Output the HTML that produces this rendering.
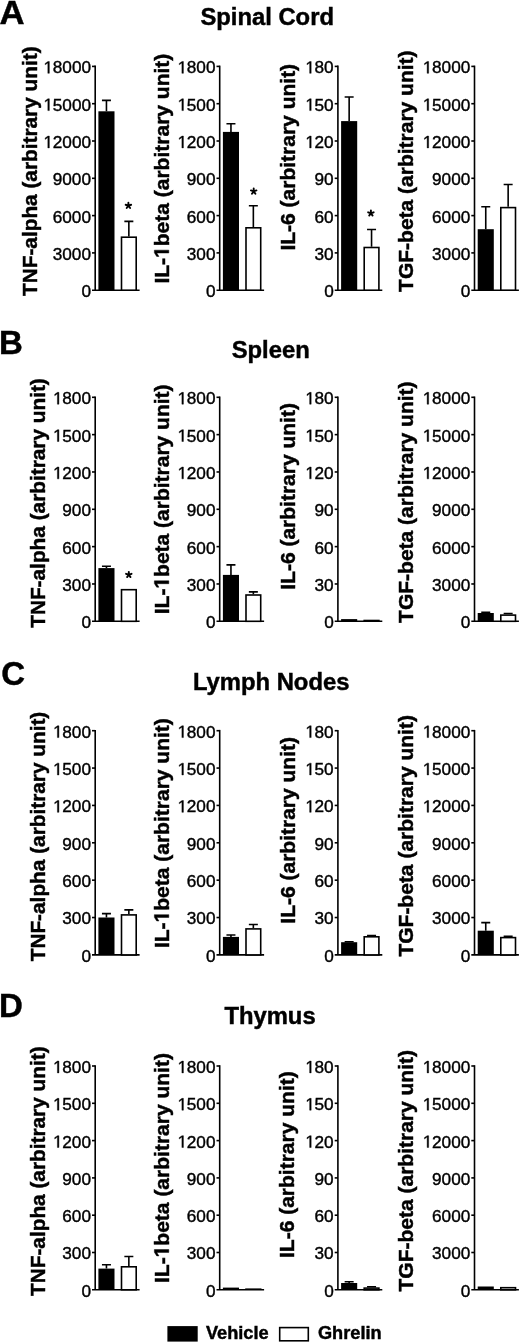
<!DOCTYPE html>
<html><head><meta charset="utf-8"><style>
html,body{margin:0;padding:0;background:#fff;width:520px;height:1343px;overflow:hidden}
svg{display:block;filter:grayscale(1)}
text{font-family:"Liberation Sans",sans-serif;fill:#000}
.b{font-weight:bold;stroke:#000;stroke-width:0.45px}
.r{font-weight:normal;stroke:#000;stroke-width:0.4px}
.g1r{fill:#000;stroke:#000;stroke-width:0.4px}
.g1b{fill:#000;stroke:#000;stroke-width:0.45px}
.ln{stroke:#000;stroke-width:1.6;fill:none}
rect.ln{fill:#fff}
</style></head><body>
<svg width="520" height="1343" viewBox="0 0 520 1343">
<rect width="520" height="1343" fill="#fff"/>
<text x="0" y="24.0" transform="matrix(1.05,0,0,1,-0.45,0)" class="b" font-size="33">A</text>
<text x="267.2" y="25.2" class="b" font-size="23.8" text-anchor="middle">Spinal Cord</text>
<text transform="translate(36.90,296.01) rotate(-90)" class="b" font-size="20.8">TNF-alpha (arbitrary unit)</text>
<path d="M95.20 65.60V290.20" class="ln"/>
<path d="M92.00 290.20H139.60" class="ln"/>
<text x="91.00" y="297.10" class="r" font-size="17.2" text-anchor="end">0</text>
<path d="M92.00 252.90H95.20" class="ln"/>
<text x="91.00" y="259.80" class="r" font-size="17.2" text-anchor="end">3000</text>
<path d="M92.00 215.60H95.20" class="ln"/>
<text x="91.00" y="222.50" class="r" font-size="17.2" text-anchor="end">6000</text>
<path d="M92.00 178.30H95.20" class="ln"/>
<text x="91.00" y="185.20" class="r" font-size="17.2" text-anchor="end">9000</text>
<path d="M92.00 141.00H95.20" class="ln"/>
<text x="91.00" y="147.90" class="r" font-size="17.2" text-anchor="end">&#x2007;2000</text>
<path d="M47.83 147.90L47.83 137.51L45.16 139.42L45.16 137.99L47.96 136.07L49.35 136.07L49.35 147.90Z" class="g1r"/>
<path d="M92.00 103.70H95.20" class="ln"/>
<text x="91.00" y="110.60" class="r" font-size="17.2" text-anchor="end">&#x2007;5000</text>
<path d="M47.83 110.60L47.83 100.21L45.16 102.12L45.16 100.69L47.96 98.77L49.35 98.77L49.35 110.60Z" class="g1r"/>
<path d="M92.00 66.40H95.20" class="ln"/>
<text x="91.00" y="73.30" class="r" font-size="17.2" text-anchor="end">&#x2007;8000</text>
<path d="M47.83 73.30L47.83 62.91L45.16 64.82L45.16 63.39L47.96 61.47L49.35 61.47L49.35 73.30Z" class="g1r"/>
<path d="M106.45 111.30V100.40M101.95 100.40H110.95" class="ln"/>
<rect x="98.40" y="111.30" width="16.10" height="178.90" fill="#000"/>
<path d="M128.85 236.40V221.40M124.35 221.40H133.35" class="ln"/>
<rect x="121.50" y="237.20" width="14.70" height="53.00" fill="#fff" class="ln"/>
<path d="M128.40 205.65L128.40 202.75M128.40 205.65L131.16 204.75M128.40 205.65L130.10 208.00M128.40 205.65L126.70 208.00M128.40 205.65L125.64 204.75" stroke="#000" stroke-width="1.9" stroke-linecap="round" fill="none"/>
<text transform="translate(168.80,283.57) rotate(-90)" class="b" font-size="21">IL-&#x2007;beta (arbitrary unit)</text>
<path d="M168.80 253.01L156.80 253.01L158.97 256.48L156.70 256.48L154.35 252.86L154.35 250.13L168.80 250.13Z" class="g1b"/>
<path d="M219.70 65.60V290.20" class="ln"/>
<path d="M216.50 290.20H264.10" class="ln"/>
<text x="215.50" y="297.10" class="r" font-size="17.2" text-anchor="end">0</text>
<path d="M216.50 252.90H219.70" class="ln"/>
<text x="215.50" y="259.80" class="r" font-size="17.2" text-anchor="end">300</text>
<path d="M216.50 215.60H219.70" class="ln"/>
<text x="215.50" y="222.50" class="r" font-size="17.2" text-anchor="end">600</text>
<path d="M216.50 178.30H219.70" class="ln"/>
<text x="215.50" y="185.20" class="r" font-size="17.2" text-anchor="end">900</text>
<path d="M216.50 141.00H219.70" class="ln"/>
<text x="215.50" y="147.90" class="r" font-size="17.2" text-anchor="end">&#x2007;200</text>
<path d="M181.90 147.90L181.90 137.51L179.23 139.42L179.23 137.99L182.02 136.07L183.42 136.07L183.42 147.90Z" class="g1r"/>
<path d="M216.50 103.70H219.70" class="ln"/>
<text x="215.50" y="110.60" class="r" font-size="17.2" text-anchor="end">&#x2007;500</text>
<path d="M181.90 110.60L181.90 100.21L179.23 102.12L179.23 100.69L182.02 98.77L183.42 98.77L183.42 110.60Z" class="g1r"/>
<path d="M216.50 66.40H219.70" class="ln"/>
<text x="215.50" y="73.30" class="r" font-size="17.2" text-anchor="end">&#x2007;800</text>
<path d="M181.90 73.30L181.90 62.91L179.23 64.82L179.23 63.39L182.02 61.47L183.42 61.47L183.42 73.30Z" class="g1r"/>
<path d="M230.95 131.90V123.80M226.45 123.80H235.45" class="ln"/>
<rect x="222.90" y="131.90" width="16.10" height="158.30" fill="#000"/>
<path d="M253.35 227.00V205.70M248.85 205.70H257.85" class="ln"/>
<rect x="246.00" y="227.80" width="14.70" height="62.40" fill="#fff" class="ln"/>
<path d="M253.70 191.35L253.70 188.45M253.70 191.35L256.46 190.45M253.70 191.35L255.40 193.70M253.70 191.35L252.00 193.70M253.70 191.35L250.94 190.45" stroke="#000" stroke-width="1.9" stroke-linecap="round" fill="none"/>
<text transform="translate(294.80,250.57) rotate(-90)" class="b" font-size="21">IL-6 (arbitrary unit)</text>
<path d="M337.90 65.60V290.20" class="ln"/>
<path d="M334.70 290.20H382.30" class="ln"/>
<text x="333.70" y="297.10" class="r" font-size="17.2" text-anchor="end">0</text>
<path d="M334.70 252.90H337.90" class="ln"/>
<text x="333.70" y="259.80" class="r" font-size="17.2" text-anchor="end">30</text>
<path d="M334.70 215.60H337.90" class="ln"/>
<text x="333.70" y="222.50" class="r" font-size="17.2" text-anchor="end">60</text>
<path d="M334.70 178.30H337.90" class="ln"/>
<text x="333.70" y="185.20" class="r" font-size="17.2" text-anchor="end">90</text>
<path d="M334.70 141.00H337.90" class="ln"/>
<text x="333.70" y="147.90" class="r" font-size="17.2" text-anchor="end">&#x2007;20</text>
<path d="M309.66 147.90L309.66 137.51L306.99 139.42L306.99 137.99L309.79 136.07L311.18 136.07L311.18 147.90Z" class="g1r"/>
<path d="M334.70 103.70H337.90" class="ln"/>
<text x="333.70" y="110.60" class="r" font-size="17.2" text-anchor="end">&#x2007;50</text>
<path d="M309.66 110.60L309.66 100.21L306.99 102.12L306.99 100.69L309.79 98.77L311.18 98.77L311.18 110.60Z" class="g1r"/>
<path d="M334.70 66.40H337.90" class="ln"/>
<text x="333.70" y="73.30" class="r" font-size="17.2" text-anchor="end">&#x2007;80</text>
<path d="M309.66 73.30L309.66 62.91L306.99 64.82L306.99 63.39L309.79 61.47L311.18 61.47L311.18 73.30Z" class="g1r"/>
<path d="M349.15 121.10V97.00M344.65 97.00H353.65" class="ln"/>
<rect x="341.10" y="121.10" width="16.10" height="169.10" fill="#000"/>
<path d="M371.55 246.70V229.50M367.05 229.50H376.05" class="ln"/>
<rect x="364.20" y="247.50" width="14.70" height="42.70" fill="#fff" class="ln"/>
<path d="M370.90 213.25L370.90 210.35M370.90 213.25L373.66 212.35M370.90 213.25L372.60 215.60M370.90 213.25L369.20 215.60M370.90 213.25L368.14 212.35" stroke="#000" stroke-width="1.9" stroke-linecap="round" fill="none"/>
<text transform="translate(413.10,291.91) rotate(-90)" class="b" font-size="21">TGF-beta (arbitrary unit)</text>
<path d="M474.50 65.60V290.20" class="ln"/>
<path d="M471.30 290.20H518.90" class="ln"/>
<text x="470.30" y="297.10" class="r" font-size="17.2" text-anchor="end">0</text>
<path d="M471.30 252.90H474.50" class="ln"/>
<text x="470.30" y="259.80" class="r" font-size="17.2" text-anchor="end">3000</text>
<path d="M471.30 215.60H474.50" class="ln"/>
<text x="470.30" y="222.50" class="r" font-size="17.2" text-anchor="end">6000</text>
<path d="M471.30 178.30H474.50" class="ln"/>
<text x="470.30" y="185.20" class="r" font-size="17.2" text-anchor="end">9000</text>
<path d="M471.30 141.00H474.50" class="ln"/>
<text x="470.30" y="147.90" class="r" font-size="17.2" text-anchor="end">&#x2007;2000</text>
<path d="M427.13 147.90L427.13 137.51L424.46 139.42L424.46 137.99L427.26 136.07L428.65 136.07L428.65 147.90Z" class="g1r"/>
<path d="M471.30 103.70H474.50" class="ln"/>
<text x="470.30" y="110.60" class="r" font-size="17.2" text-anchor="end">&#x2007;5000</text>
<path d="M427.13 110.60L427.13 100.21L424.46 102.12L424.46 100.69L427.26 98.77L428.65 98.77L428.65 110.60Z" class="g1r"/>
<path d="M471.30 66.40H474.50" class="ln"/>
<text x="470.30" y="73.30" class="r" font-size="17.2" text-anchor="end">&#x2007;8000</text>
<path d="M427.13 73.30L427.13 62.91L424.46 64.82L424.46 63.39L427.26 61.47L428.65 61.47L428.65 73.30Z" class="g1r"/>
<path d="M485.75 229.20V206.70M481.25 206.70H490.25" class="ln"/>
<rect x="477.70" y="229.20" width="16.10" height="61.00" fill="#000"/>
<path d="M508.15 206.80V184.50M503.65 184.50H512.65" class="ln"/>
<rect x="500.80" y="207.60" width="14.70" height="82.60" fill="#fff" class="ln"/>
<text x="-1" y="353.5" class="b" font-size="33">B</text>
<text x="270.7" y="357.5" class="b" font-size="23.8" text-anchor="middle">Spleen</text>
<text transform="translate(44.70,627.81) rotate(-90)" class="b" font-size="20.8">TNF-alpha (arbitrary unit)</text>
<path d="M95.20 396.50V621.30" class="ln"/>
<path d="M92.00 621.30H139.60" class="ln"/>
<text x="91.00" y="628.20" class="r" font-size="17.2" text-anchor="end">0</text>
<path d="M92.00 583.97H95.20" class="ln"/>
<text x="91.00" y="590.87" class="r" font-size="17.2" text-anchor="end">300</text>
<path d="M92.00 546.63H95.20" class="ln"/>
<text x="91.00" y="553.53" class="r" font-size="17.2" text-anchor="end">600</text>
<path d="M92.00 509.30H95.20" class="ln"/>
<text x="91.00" y="516.20" class="r" font-size="17.2" text-anchor="end">900</text>
<path d="M92.00 471.97H95.20" class="ln"/>
<text x="91.00" y="478.87" class="r" font-size="17.2" text-anchor="end">&#x2007;200</text>
<path d="M57.40 478.87L57.40 468.48L54.73 470.38L54.73 468.96L57.52 467.03L58.92 467.03L58.92 478.87Z" class="g1r"/>
<path d="M92.00 434.63H95.20" class="ln"/>
<text x="91.00" y="441.53" class="r" font-size="17.2" text-anchor="end">&#x2007;500</text>
<path d="M57.40 441.53L57.40 431.14L54.73 433.05L54.73 431.62L57.52 429.70L58.92 429.70L58.92 441.53Z" class="g1r"/>
<path d="M92.00 397.30H95.20" class="ln"/>
<text x="91.00" y="404.20" class="r" font-size="17.2" text-anchor="end">&#x2007;800</text>
<path d="M57.40 404.20L57.40 393.81L54.73 395.72L54.73 394.29L57.52 392.37L58.92 392.37L58.92 404.20Z" class="g1r"/>
<path d="M106.45 568.10V566.20M101.95 566.20H110.95" class="ln"/>
<rect x="98.40" y="568.10" width="16.10" height="53.20" fill="#000"/>
<rect x="121.50" y="589.70" width="14.70" height="31.60" fill="#fff" class="ln"/>
<path d="M128.80 574.75L128.80 571.85M128.80 574.75L131.56 573.85M128.80 574.75L130.50 577.10M128.80 574.75L127.10 577.10M128.80 574.75L126.04 573.85" stroke="#000" stroke-width="1.9" stroke-linecap="round" fill="none"/>
<text transform="translate(168.80,614.27) rotate(-90)" class="b" font-size="21">IL-&#x2007;beta (arbitrary unit)</text>
<path d="M168.80 583.71L156.80 583.71L158.97 587.18L156.70 587.18L154.35 583.56L154.35 580.83L168.80 580.83Z" class="g1b"/>
<path d="M219.70 396.50V621.30" class="ln"/>
<path d="M216.50 621.30H264.10" class="ln"/>
<text x="215.50" y="628.20" class="r" font-size="17.2" text-anchor="end">0</text>
<path d="M216.50 583.97H219.70" class="ln"/>
<text x="215.50" y="590.87" class="r" font-size="17.2" text-anchor="end">300</text>
<path d="M216.50 546.63H219.70" class="ln"/>
<text x="215.50" y="553.53" class="r" font-size="17.2" text-anchor="end">600</text>
<path d="M216.50 509.30H219.70" class="ln"/>
<text x="215.50" y="516.20" class="r" font-size="17.2" text-anchor="end">900</text>
<path d="M216.50 471.97H219.70" class="ln"/>
<text x="215.50" y="478.87" class="r" font-size="17.2" text-anchor="end">&#x2007;200</text>
<path d="M181.90 478.87L181.90 468.48L179.23 470.38L179.23 468.96L182.02 467.03L183.42 467.03L183.42 478.87Z" class="g1r"/>
<path d="M216.50 434.63H219.70" class="ln"/>
<text x="215.50" y="441.53" class="r" font-size="17.2" text-anchor="end">&#x2007;500</text>
<path d="M181.90 441.53L181.90 431.14L179.23 433.05L179.23 431.62L182.02 429.70L183.42 429.70L183.42 441.53Z" class="g1r"/>
<path d="M216.50 397.30H219.70" class="ln"/>
<text x="215.50" y="404.20" class="r" font-size="17.2" text-anchor="end">&#x2007;800</text>
<path d="M181.90 404.20L181.90 393.81L179.23 395.72L179.23 394.29L182.02 392.37L183.42 392.37L183.42 404.20Z" class="g1r"/>
<path d="M230.95 574.90V564.90M226.45 564.90H235.45" class="ln"/>
<rect x="222.90" y="574.90" width="16.10" height="46.40" fill="#000"/>
<path d="M253.35 594.20V591.90M248.85 591.90H257.85" class="ln"/>
<rect x="246.00" y="595.00" width="14.70" height="26.30" fill="#fff" class="ln"/>
<text transform="translate(294.60,589.77) rotate(-90)" class="b" font-size="21">IL-6 (arbitrary unit)</text>
<path d="M337.90 396.50V621.30" class="ln"/>
<path d="M334.70 621.30H382.30" class="ln"/>
<text x="333.70" y="628.20" class="r" font-size="17.2" text-anchor="end">0</text>
<path d="M334.70 583.97H337.90" class="ln"/>
<text x="333.70" y="590.87" class="r" font-size="17.2" text-anchor="end">30</text>
<path d="M334.70 546.63H337.90" class="ln"/>
<text x="333.70" y="553.53" class="r" font-size="17.2" text-anchor="end">60</text>
<path d="M334.70 509.30H337.90" class="ln"/>
<text x="333.70" y="516.20" class="r" font-size="17.2" text-anchor="end">90</text>
<path d="M334.70 471.97H337.90" class="ln"/>
<text x="333.70" y="478.87" class="r" font-size="17.2" text-anchor="end">&#x2007;20</text>
<path d="M309.66 478.87L309.66 468.48L306.99 470.38L306.99 468.96L309.79 467.03L311.18 467.03L311.18 478.87Z" class="g1r"/>
<path d="M334.70 434.63H337.90" class="ln"/>
<text x="333.70" y="441.53" class="r" font-size="17.2" text-anchor="end">&#x2007;50</text>
<path d="M309.66 441.53L309.66 431.14L306.99 433.05L306.99 431.62L309.79 429.70L311.18 429.70L311.18 441.53Z" class="g1r"/>
<path d="M334.70 397.30H337.90" class="ln"/>
<text x="333.70" y="404.20" class="r" font-size="17.2" text-anchor="end">&#x2007;80</text>
<path d="M309.66 404.20L309.66 393.81L306.99 395.72L306.99 394.29L309.79 392.37L311.18 392.37L311.18 404.20Z" class="g1r"/>
<rect x="341.10" y="619.10" width="16.10" height="2.20" fill="#000"/>
<rect x="363.40" y="619.70" width="16.30" height="1.60" fill="#000"/>
<text transform="translate(413.10,622.91) rotate(-90)" class="b" font-size="21">TGF-beta (arbitrary unit)</text>
<path d="M474.50 396.50V621.30" class="ln"/>
<path d="M471.30 621.30H518.90" class="ln"/>
<text x="470.30" y="628.20" class="r" font-size="17.2" text-anchor="end">0</text>
<path d="M471.30 583.97H474.50" class="ln"/>
<text x="470.30" y="590.87" class="r" font-size="17.2" text-anchor="end">3000</text>
<path d="M471.30 546.63H474.50" class="ln"/>
<text x="470.30" y="553.53" class="r" font-size="17.2" text-anchor="end">6000</text>
<path d="M471.30 509.30H474.50" class="ln"/>
<text x="470.30" y="516.20" class="r" font-size="17.2" text-anchor="end">9000</text>
<path d="M471.30 471.97H474.50" class="ln"/>
<text x="470.30" y="478.87" class="r" font-size="17.2" text-anchor="end">&#x2007;2000</text>
<path d="M427.13 478.87L427.13 468.48L424.46 470.38L424.46 468.96L427.26 467.03L428.65 467.03L428.65 478.87Z" class="g1r"/>
<path d="M471.30 434.63H474.50" class="ln"/>
<text x="470.30" y="441.53" class="r" font-size="17.2" text-anchor="end">&#x2007;5000</text>
<path d="M427.13 441.53L427.13 431.14L424.46 433.05L424.46 431.62L427.26 429.70L428.65 429.70L428.65 441.53Z" class="g1r"/>
<path d="M471.30 397.30H474.50" class="ln"/>
<text x="470.30" y="404.20" class="r" font-size="17.2" text-anchor="end">&#x2007;8000</text>
<path d="M427.13 404.20L427.13 393.81L424.46 395.72L424.46 394.29L427.26 392.37L428.65 392.37L428.65 404.20Z" class="g1r"/>
<path d="M485.75 613.00V612.20M481.25 612.20H490.25" class="ln"/>
<rect x="477.70" y="613.00" width="16.10" height="8.30" fill="#000"/>
<path d="M508.15 614.30V613.50M503.65 613.50H512.65" class="ln"/>
<rect x="500.80" y="615.10" width="14.70" height="6.20" fill="#fff" class="ln"/>
<text x="1.2" y="685.0" class="b" font-size="33">C</text>
<text x="271.2" y="690.4" class="b" font-size="23.8" text-anchor="middle">Lymph Nodes</text>
<text transform="translate(44.70,961.31) rotate(-90)" class="b" font-size="20.8">TNF-alpha (arbitrary unit)</text>
<path d="M95.20 729.90V954.90" class="ln"/>
<path d="M92.00 954.90H139.60" class="ln"/>
<text x="91.00" y="961.80" class="r" font-size="17.2" text-anchor="end">0</text>
<path d="M92.00 917.53H95.20" class="ln"/>
<text x="91.00" y="924.43" class="r" font-size="17.2" text-anchor="end">300</text>
<path d="M92.00 880.17H95.20" class="ln"/>
<text x="91.00" y="887.07" class="r" font-size="17.2" text-anchor="end">600</text>
<path d="M92.00 842.80H95.20" class="ln"/>
<text x="91.00" y="849.70" class="r" font-size="17.2" text-anchor="end">900</text>
<path d="M92.00 805.43H95.20" class="ln"/>
<text x="91.00" y="812.33" class="r" font-size="17.2" text-anchor="end">&#x2007;200</text>
<path d="M57.40 812.33L57.40 801.94L54.73 803.85L54.73 802.42L57.52 800.50L58.92 800.50L58.92 812.33Z" class="g1r"/>
<path d="M92.00 768.07H95.20" class="ln"/>
<text x="91.00" y="774.97" class="r" font-size="17.2" text-anchor="end">&#x2007;500</text>
<path d="M57.40 774.97L57.40 764.58L54.73 766.48L54.73 765.06L57.52 763.13L58.92 763.13L58.92 774.97Z" class="g1r"/>
<path d="M92.00 730.70H95.20" class="ln"/>
<text x="91.00" y="737.60" class="r" font-size="17.2" text-anchor="end">&#x2007;800</text>
<path d="M57.40 737.60L57.40 727.21L54.73 729.12L54.73 727.69L57.52 725.77L58.92 725.77L58.92 737.60Z" class="g1r"/>
<path d="M106.45 917.50V913.60M101.95 913.60H110.95" class="ln"/>
<rect x="98.40" y="917.50" width="16.10" height="37.40" fill="#000"/>
<path d="M128.85 914.10V909.90M124.35 909.90H133.35" class="ln"/>
<rect x="121.50" y="914.90" width="14.70" height="40.00" fill="#fff" class="ln"/>
<text transform="translate(168.80,948.07) rotate(-90)" class="b" font-size="21">IL-&#x2007;beta (arbitrary unit)</text>
<path d="M168.80 917.51L156.80 917.51L158.97 920.98L156.70 920.98L154.35 917.36L154.35 914.63L168.80 914.63Z" class="g1b"/>
<path d="M219.70 729.90V954.90" class="ln"/>
<path d="M216.50 954.90H264.10" class="ln"/>
<text x="215.50" y="961.80" class="r" font-size="17.2" text-anchor="end">0</text>
<path d="M216.50 917.53H219.70" class="ln"/>
<text x="215.50" y="924.43" class="r" font-size="17.2" text-anchor="end">300</text>
<path d="M216.50 880.17H219.70" class="ln"/>
<text x="215.50" y="887.07" class="r" font-size="17.2" text-anchor="end">600</text>
<path d="M216.50 842.80H219.70" class="ln"/>
<text x="215.50" y="849.70" class="r" font-size="17.2" text-anchor="end">900</text>
<path d="M216.50 805.43H219.70" class="ln"/>
<text x="215.50" y="812.33" class="r" font-size="17.2" text-anchor="end">&#x2007;200</text>
<path d="M181.90 812.33L181.90 801.94L179.23 803.85L179.23 802.42L182.02 800.50L183.42 800.50L183.42 812.33Z" class="g1r"/>
<path d="M216.50 768.07H219.70" class="ln"/>
<text x="215.50" y="774.97" class="r" font-size="17.2" text-anchor="end">&#x2007;500</text>
<path d="M181.90 774.97L181.90 764.58L179.23 766.48L179.23 765.06L182.02 763.13L183.42 763.13L183.42 774.97Z" class="g1r"/>
<path d="M216.50 730.70H219.70" class="ln"/>
<text x="215.50" y="737.60" class="r" font-size="17.2" text-anchor="end">&#x2007;800</text>
<path d="M181.90 737.60L181.90 727.21L179.23 729.12L179.23 727.69L182.02 725.77L183.42 725.77L183.42 737.60Z" class="g1r"/>
<path d="M230.95 936.90V935.00M226.45 935.00H235.45" class="ln"/>
<rect x="222.90" y="936.90" width="16.10" height="18.00" fill="#000"/>
<path d="M253.35 928.10V924.50M248.85 924.50H257.85" class="ln"/>
<rect x="246.00" y="928.90" width="14.70" height="26.00" fill="#fff" class="ln"/>
<text transform="translate(294.60,923.67) rotate(-90)" class="b" font-size="21">IL-6 (arbitrary unit)</text>
<path d="M337.90 729.90V954.90" class="ln"/>
<path d="M334.70 954.90H382.30" class="ln"/>
<text x="333.70" y="961.80" class="r" font-size="17.2" text-anchor="end">0</text>
<path d="M334.70 917.53H337.90" class="ln"/>
<text x="333.70" y="924.43" class="r" font-size="17.2" text-anchor="end">30</text>
<path d="M334.70 880.17H337.90" class="ln"/>
<text x="333.70" y="887.07" class="r" font-size="17.2" text-anchor="end">60</text>
<path d="M334.70 842.80H337.90" class="ln"/>
<text x="333.70" y="849.70" class="r" font-size="17.2" text-anchor="end">90</text>
<path d="M334.70 805.43H337.90" class="ln"/>
<text x="333.70" y="812.33" class="r" font-size="17.2" text-anchor="end">&#x2007;20</text>
<path d="M309.66 812.33L309.66 801.94L306.99 803.85L306.99 802.42L309.79 800.50L311.18 800.50L311.18 812.33Z" class="g1r"/>
<path d="M334.70 768.07H337.90" class="ln"/>
<text x="333.70" y="774.97" class="r" font-size="17.2" text-anchor="end">&#x2007;50</text>
<path d="M309.66 774.97L309.66 764.58L306.99 766.48L306.99 765.06L309.79 763.13L311.18 763.13L311.18 774.97Z" class="g1r"/>
<path d="M334.70 730.70H337.90" class="ln"/>
<text x="333.70" y="737.60" class="r" font-size="17.2" text-anchor="end">&#x2007;80</text>
<path d="M309.66 737.60L309.66 727.21L306.99 729.12L306.99 727.69L309.79 725.77L311.18 725.77L311.18 737.60Z" class="g1r"/>
<path d="M349.15 942.20V941.80M344.65 941.80H353.65" class="ln"/>
<rect x="341.10" y="942.20" width="16.10" height="12.70" fill="#000"/>
<path d="M371.55 936.00V935.60M367.05 935.60H376.05" class="ln"/>
<rect x="364.20" y="936.80" width="14.70" height="18.10" fill="#fff" class="ln"/>
<text transform="translate(413.10,956.61) rotate(-90)" class="b" font-size="21">TGF-beta (arbitrary unit)</text>
<path d="M474.50 729.90V954.90" class="ln"/>
<path d="M471.30 954.90H518.90" class="ln"/>
<text x="470.30" y="961.80" class="r" font-size="17.2" text-anchor="end">0</text>
<path d="M471.30 917.53H474.50" class="ln"/>
<text x="470.30" y="924.43" class="r" font-size="17.2" text-anchor="end">3000</text>
<path d="M471.30 880.17H474.50" class="ln"/>
<text x="470.30" y="887.07" class="r" font-size="17.2" text-anchor="end">6000</text>
<path d="M471.30 842.80H474.50" class="ln"/>
<text x="470.30" y="849.70" class="r" font-size="17.2" text-anchor="end">9000</text>
<path d="M471.30 805.43H474.50" class="ln"/>
<text x="470.30" y="812.33" class="r" font-size="17.2" text-anchor="end">&#x2007;2000</text>
<path d="M427.13 812.33L427.13 801.94L424.46 803.85L424.46 802.42L427.26 800.50L428.65 800.50L428.65 812.33Z" class="g1r"/>
<path d="M471.30 768.07H474.50" class="ln"/>
<text x="470.30" y="774.97" class="r" font-size="17.2" text-anchor="end">&#x2007;5000</text>
<path d="M427.13 774.97L427.13 764.58L424.46 766.48L424.46 765.06L427.26 763.13L428.65 763.13L428.65 774.97Z" class="g1r"/>
<path d="M471.30 730.70H474.50" class="ln"/>
<text x="470.30" y="737.60" class="r" font-size="17.2" text-anchor="end">&#x2007;8000</text>
<path d="M427.13 737.60L427.13 727.21L424.46 729.12L424.46 727.69L427.26 725.77L428.65 725.77L428.65 737.60Z" class="g1r"/>
<path d="M485.75 930.70V922.60M481.25 922.60H490.25" class="ln"/>
<rect x="477.70" y="930.70" width="16.10" height="24.20" fill="#000"/>
<path d="M508.15 936.80V936.30M503.65 936.30H512.65" class="ln"/>
<rect x="500.80" y="937.60" width="14.70" height="17.30" fill="#fff" class="ln"/>
<text x="-1" y="1017.2" class="b" font-size="33">D</text>
<text x="270.0" y="1024.0" class="b" font-size="23.8" text-anchor="middle">Thymus</text>
<text transform="translate(44.70,1296.01) rotate(-90)" class="b" font-size="20.8">TNF-alpha (arbitrary unit)</text>
<path d="M95.20 1065.20V1289.80" class="ln"/>
<path d="M92.00 1289.80H139.60" class="ln"/>
<text x="91.00" y="1296.70" class="r" font-size="17.2" text-anchor="end">0</text>
<path d="M92.00 1252.50H95.20" class="ln"/>
<text x="91.00" y="1259.40" class="r" font-size="17.2" text-anchor="end">300</text>
<path d="M92.00 1215.20H95.20" class="ln"/>
<text x="91.00" y="1222.10" class="r" font-size="17.2" text-anchor="end">600</text>
<path d="M92.00 1177.90H95.20" class="ln"/>
<text x="91.00" y="1184.80" class="r" font-size="17.2" text-anchor="end">900</text>
<path d="M92.00 1140.60H95.20" class="ln"/>
<text x="91.00" y="1147.50" class="r" font-size="17.2" text-anchor="end">&#x2007;200</text>
<path d="M57.40 1147.50L57.40 1137.11L54.73 1139.02L54.73 1137.59L57.52 1135.67L58.92 1135.67L58.92 1147.50Z" class="g1r"/>
<path d="M92.00 1103.30H95.20" class="ln"/>
<text x="91.00" y="1110.20" class="r" font-size="17.2" text-anchor="end">&#x2007;500</text>
<path d="M57.40 1110.20L57.40 1099.81L54.73 1101.72L54.73 1100.29L57.52 1098.37L58.92 1098.37L58.92 1110.20Z" class="g1r"/>
<path d="M92.00 1066.00H95.20" class="ln"/>
<text x="91.00" y="1072.90" class="r" font-size="17.2" text-anchor="end">&#x2007;800</text>
<path d="M57.40 1072.90L57.40 1062.51L54.73 1064.42L54.73 1062.99L57.52 1061.07L58.92 1061.07L58.92 1072.90Z" class="g1r"/>
<path d="M106.45 1268.60V1264.80M101.95 1264.80H110.95" class="ln"/>
<rect x="98.40" y="1268.60" width="16.10" height="21.20" fill="#000"/>
<path d="M128.85 1266.00V1256.50M124.35 1256.50H133.35" class="ln"/>
<rect x="121.50" y="1266.80" width="14.70" height="23.00" fill="#fff" class="ln"/>
<text transform="translate(168.80,1282.97) rotate(-90)" class="b" font-size="21">IL-&#x2007;beta (arbitrary unit)</text>
<path d="M168.80 1252.41L156.80 1252.41L158.97 1255.88L156.70 1255.88L154.35 1252.26L154.35 1249.53L168.80 1249.53Z" class="g1b"/>
<path d="M219.70 1065.20V1289.80" class="ln"/>
<path d="M216.50 1289.80H264.10" class="ln"/>
<text x="215.50" y="1296.70" class="r" font-size="17.2" text-anchor="end">0</text>
<path d="M216.50 1252.50H219.70" class="ln"/>
<text x="215.50" y="1259.40" class="r" font-size="17.2" text-anchor="end">300</text>
<path d="M216.50 1215.20H219.70" class="ln"/>
<text x="215.50" y="1222.10" class="r" font-size="17.2" text-anchor="end">600</text>
<path d="M216.50 1177.90H219.70" class="ln"/>
<text x="215.50" y="1184.80" class="r" font-size="17.2" text-anchor="end">900</text>
<path d="M216.50 1140.60H219.70" class="ln"/>
<text x="215.50" y="1147.50" class="r" font-size="17.2" text-anchor="end">&#x2007;200</text>
<path d="M181.90 1147.50L181.90 1137.11L179.23 1139.02L179.23 1137.59L182.02 1135.67L183.42 1135.67L183.42 1147.50Z" class="g1r"/>
<path d="M216.50 1103.30H219.70" class="ln"/>
<text x="215.50" y="1110.20" class="r" font-size="17.2" text-anchor="end">&#x2007;500</text>
<path d="M181.90 1110.20L181.90 1099.81L179.23 1101.72L179.23 1100.29L182.02 1098.37L183.42 1098.37L183.42 1110.20Z" class="g1r"/>
<path d="M216.50 1066.00H219.70" class="ln"/>
<text x="215.50" y="1072.90" class="r" font-size="17.2" text-anchor="end">&#x2007;800</text>
<path d="M181.90 1072.90L181.90 1062.51L179.23 1064.42L179.23 1062.99L182.02 1061.07L183.42 1061.07L183.42 1072.90Z" class="g1r"/>
<rect x="222.90" y="1287.60" width="16.10" height="2.20" fill="#000"/>
<rect x="245.20" y="1288.40" width="16.30" height="1.40" fill="#000"/>
<text transform="translate(294.40,1257.97) rotate(-90)" class="b" font-size="21">IL-6 (arbitrary unit)</text>
<path d="M337.90 1065.20V1289.80" class="ln"/>
<path d="M334.70 1289.80H382.30" class="ln"/>
<text x="333.70" y="1296.70" class="r" font-size="17.2" text-anchor="end">0</text>
<path d="M334.70 1252.50H337.90" class="ln"/>
<text x="333.70" y="1259.40" class="r" font-size="17.2" text-anchor="end">30</text>
<path d="M334.70 1215.20H337.90" class="ln"/>
<text x="333.70" y="1222.10" class="r" font-size="17.2" text-anchor="end">60</text>
<path d="M334.70 1177.90H337.90" class="ln"/>
<text x="333.70" y="1184.80" class="r" font-size="17.2" text-anchor="end">90</text>
<path d="M334.70 1140.60H337.90" class="ln"/>
<text x="333.70" y="1147.50" class="r" font-size="17.2" text-anchor="end">&#x2007;20</text>
<path d="M309.66 1147.50L309.66 1137.11L306.99 1139.02L306.99 1137.59L309.79 1135.67L311.18 1135.67L311.18 1147.50Z" class="g1r"/>
<path d="M334.70 1103.30H337.90" class="ln"/>
<text x="333.70" y="1110.20" class="r" font-size="17.2" text-anchor="end">&#x2007;50</text>
<path d="M309.66 1110.20L309.66 1099.81L306.99 1101.72L306.99 1100.29L309.79 1098.37L311.18 1098.37L311.18 1110.20Z" class="g1r"/>
<path d="M334.70 1066.00H337.90" class="ln"/>
<text x="333.70" y="1072.90" class="r" font-size="17.2" text-anchor="end">&#x2007;80</text>
<path d="M309.66 1072.90L309.66 1062.51L306.99 1064.42L306.99 1062.99L309.79 1061.07L311.18 1061.07L311.18 1072.90Z" class="g1r"/>
<path d="M349.15 1283.00V1281.70M344.65 1281.70H353.65" class="ln"/>
<rect x="341.10" y="1283.00" width="16.10" height="6.80" fill="#000"/>
<path d="M371.55 1287.30V1286.80M367.05 1286.80H376.05" class="ln"/>
<rect x="364.20" y="1288.10" width="14.70" height="1.70" fill="#fff" class="ln"/>
<text transform="translate(413.10,1291.51) rotate(-90)" class="b" font-size="21">TGF-beta (arbitrary unit)</text>
<path d="M474.50 1065.20V1289.80" class="ln"/>
<path d="M471.30 1289.80H518.90" class="ln"/>
<text x="470.30" y="1296.70" class="r" font-size="17.2" text-anchor="end">0</text>
<path d="M471.30 1252.50H474.50" class="ln"/>
<text x="470.30" y="1259.40" class="r" font-size="17.2" text-anchor="end">3000</text>
<path d="M471.30 1215.20H474.50" class="ln"/>
<text x="470.30" y="1222.10" class="r" font-size="17.2" text-anchor="end">6000</text>
<path d="M471.30 1177.90H474.50" class="ln"/>
<text x="470.30" y="1184.80" class="r" font-size="17.2" text-anchor="end">9000</text>
<path d="M471.30 1140.60H474.50" class="ln"/>
<text x="470.30" y="1147.50" class="r" font-size="17.2" text-anchor="end">&#x2007;2000</text>
<path d="M427.13 1147.50L427.13 1137.11L424.46 1139.02L424.46 1137.59L427.26 1135.67L428.65 1135.67L428.65 1147.50Z" class="g1r"/>
<path d="M471.30 1103.30H474.50" class="ln"/>
<text x="470.30" y="1110.20" class="r" font-size="17.2" text-anchor="end">&#x2007;5000</text>
<path d="M427.13 1110.20L427.13 1099.81L424.46 1101.72L424.46 1100.29L427.26 1098.37L428.65 1098.37L428.65 1110.20Z" class="g1r"/>
<path d="M471.30 1066.00H474.50" class="ln"/>
<text x="470.30" y="1072.90" class="r" font-size="17.2" text-anchor="end">&#x2007;8000</text>
<path d="M427.13 1072.90L427.13 1062.51L424.46 1064.42L424.46 1062.99L427.26 1061.07L428.65 1061.07L428.65 1072.90Z" class="g1r"/>
<rect x="477.70" y="1286.50" width="16.10" height="3.30" fill="#000"/>
<rect x="500.80" y="1287.70" width="14.70" height="2.10" fill="#fff" class="ln"/>
<rect x="167.4" y="1326.1" width="30.3" height="15.5" fill="#000"/>
<text x="205.92" y="1338.9" class="b" font-size="18.2">Vehicle</text>
<rect x="279.7" y="1327.6" width="28.599999999999998" height="13.200000000000001" fill="#fff" class="ln"/>
<text x="317.97" y="1339.3" class="b" font-size="18.2">Ghrelin</text>
</svg>
</body></html>
